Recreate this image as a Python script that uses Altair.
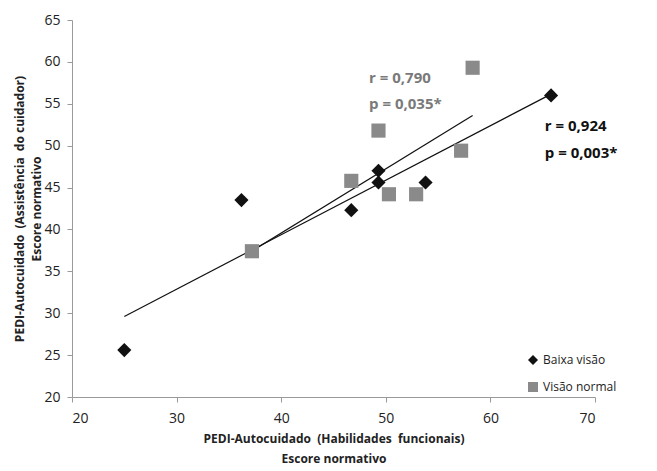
import altair as alt
import pandas as pd

# Baixa visão (low vision)
bv_x = [25.0, 36.2, 46.7, 49.3, 49.3, 53.8, 65.8]
bv_y = [25.6, 43.5, 42.3, 47.0, 45.6, 45.6, 56.0]
# Visão normal (normal vision)
vn_x = [37.2, 46.7, 49.3, 50.3, 52.9, 57.2, 58.3]
vn_y = [37.4, 45.8, 51.8, 44.2, 44.2, 49.4, 59.3]

groups = ["Baixa visão", "Visão normal"]

ann_text = ["r = 0,790", "p = 0,035*", "r = 0,924", "p = 0,003*"]
ann_x = [48.4, 48.4, 65.2, 65.2]
ann_y = [58.1, 55.0, 52.4, 49.1]
ann_group = ["Visão normal", "Visão normal", "Baixa visão", "Baixa visão"]

x_ticks = [20, 30, 40, 50, 60, 70]
y_ticks = [20, 25, 30, 35, 40, 45, 50, 55, 60, 65]

df = pd.DataFrame({
    "x": bv_x + vn_x,
    "y": bv_y + vn_y,
    "g": [groups[0]] * len(bv_x) + [groups[1]] * len(vn_x),
})
ann = pd.DataFrame({"x": ann_x, "y": ann_y, "t": ann_text, "g": ann_group})

FONT = "Open Sans"
NB = "\u00a0"

xenc = alt.X("x:Q", scale=alt.Scale(domain=[20, 70], nice=False),
             axis=alt.Axis(values=x_ticks, grid=False, labelPadding=9, titlePadding=8,
                           title=["PEDI-Autocuidado" + NB + " (Habilidades" + NB + " funcionais)", "Escore normativo"]))
yenc = alt.Y("y:Q", scale=alt.Scale(domain=[20, 65], nice=False, zero=False),
             axis=alt.Axis(values=y_ticks, grid=False, labelPadding=7, titlePadding=0,
                           titleLineHeight=17,
                           title=["PEDI-Autocuidado" + NB + " (Assistência" + NB + " do cuidador)", "Escore normativo"]))

leg = alt.Legend(title=None, orient="none", legendX=455, legendY=334,
                 labelFont=FONT, labelFontSize=12, labelColor="#222",
                 symbolSize=100, rowPadding=15, symbolStrokeWidth=0)

points = alt.Chart(df).mark_point(filled=True, opacity=1, size=200).encode(
    x=xenc, y=yenc,
    shape=alt.Shape("g:N", scale=alt.Scale(domain=groups, range=["diamond", "square"]), legend=leg),
    color=alt.Color("g:N", scale=alt.Scale(domain=groups, range=["#111111", "#8a8a8a"]), legend=leg),
)

lines = alt.Chart(df).transform_regression("x", "y", groupby=["g"]).mark_line(
    color="#111111", strokeWidth=1.2
).encode(x="x:Q", y="y:Q", detail="g:N")

def ann_layer(group, color):
    return alt.Chart(ann).transform_filter(alt.datum.g == group).mark_text(
        align="left", baseline="middle", font=FONT, fontSize=15, fontWeight="bold", color=color
    ).encode(x="x:Q", y="y:Q", text="t:N")

texts_vn = ann_layer("Visão normal", "#7a7a7a")
texts_bv = ann_layer("Baixa visão", "#111111")

chart = alt.layer(lines, points, texts_vn, texts_bv).properties(
    width=523, height=377
).configure_view(stroke=None).configure_axis(
    domainColor="#9a9a9a", tickColor="#9a9a9a", labelFont=FONT, labelFontSize=14,
    labelColor="#222", titleFont=FONT, titleFontSize=12, titleFontWeight="bold",
    titleColor="#222", tickSize=5, titleLineHeight=20
)

chart.save("out.html", embed_options={"renderer": "svg", "actions": False})
